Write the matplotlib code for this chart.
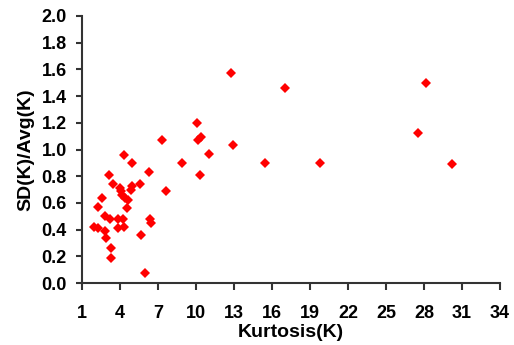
import matplotlib
matplotlib.use("Agg")
import matplotlib.pyplot as plt

# kurtosis vs relative standard deviation
kurtosis = [1.97, 2.29, 2.29, 2.60, 2.79, 2.79, 2.92, 3.16, 3.21, 3.29, 3.29, 3.42,
            3.87, 3.87, 4.00, 4.08, 4.18, 4.21, 4.29, 4.34, 4.39, 4.52, 4.60, 4.87,
            4.92, 4.92, 5.58, 5.66, 5.97, 6.31, 6.37, 6.45, 7.34, 7.60, 8.92, 10.10,
            10.18, 10.42, 10.31, 11.02, 12.79, 12.94, 15.44, 17.02, 19.81, 27.50,
            28.13, 30.20]
sd_avg = [0.42, 0.41, 0.57, 0.64, 0.50, 0.39, 0.34, 0.81, 0.48, 0.26, 0.19, 0.74,
          0.48, 0.41, 0.71, 0.69, 0.66, 0.48, 0.42, 0.96, 0.64, 0.56, 0.62, 0.70,
          0.73, 0.90, 0.74, 0.36, 0.075, 0.83, 0.48, 0.45, 1.07, 0.69, 0.90, 1.20,
          1.07, 1.09, 0.81, 0.97, 1.57, 1.03, 0.90, 1.46, 0.90, 1.12,
          1.50, 0.89]

xticks = list(range(1, 35, 3))
yticks = [i / 10 for i in range(0, 21, 2)]

plt.rcParams['font.family'] = ['Liberation Sans', 'DejaVu Sans']

fig = plt.figure(figsize=(5.14, 3.45), dpi=100)
ax = fig.add_axes([82 / 514, 1 - 283 / 345, 418 / 514, 267 / 345])

ax.plot(kurtosis, sd_avg, linestyle='none', marker='D', markersize=5.3,
        color='#ff0000', markeredgewidth=0, clip_on=False)

ax.set_xlim(1, 34)
ax.set_ylim(0, 2.0)
ax.set_xticks(xticks)
ax.set_yticks(yticks)
ax.set_yticklabels(["%.1f" % v for v in yticks])

for s in ['top', 'right']:
    ax.spines[s].set_visible(False)
for s in ['left', 'bottom']:
    ax.spines[s].set_color('#333333')
    ax.spines[s].set_linewidth(1.5)

ax.tick_params(axis='both', direction='out', width=1.5, color='#333333',
               labelsize=13)
for lab in ax.get_xticklabels() + ax.get_yticklabels():
    lab.set_fontweight('bold')
ax.tick_params(axis='x', length=5, pad=11)
ax.tick_params(axis='y', length=4, pad=7)

ax.set_xlabel("Kurtosis(K)", fontsize=14, fontweight='bold', labelpad=1)
ax.set_ylabel("SD(K)/Avg(K)", fontsize=14, fontweight='bold', labelpad=5)

fig.savefig("out.png", dpi=100)
